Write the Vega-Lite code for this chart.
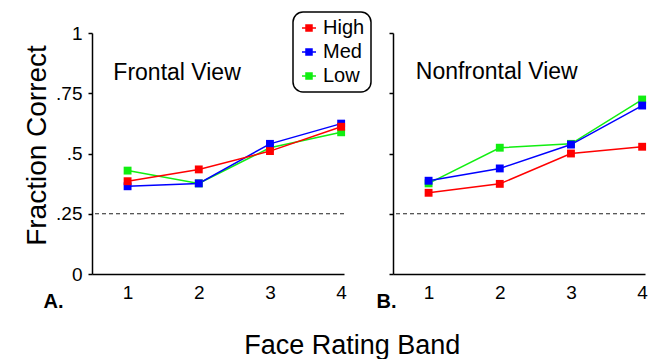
{
  "$schema": "https://vega.github.io/schema/vega-lite/v6.json",
  "padding": {"left": 22, "top": 11, "right": 0, "bottom": 0},
  "bounds": "flush",
  "background": "white",
  "datasets": {
    "acc": [
      {"panel": "Frontal", "band": 1, "level": "Low", "value": 0.429},
      {"panel": "Frontal", "band": 2, "level": "Low", "value": 0.376},
      {"panel": "Frontal", "band": 3, "level": "Low", "value": 0.524},
      {"panel": "Frontal", "band": 4, "level": "Low", "value": 0.588},
      {"panel": "Frontal", "band": 1, "level": "Med", "value": 0.364},
      {"panel": "Frontal", "band": 2, "level": "Med", "value": 0.376},
      {"panel": "Frontal", "band": 3, "level": "Med", "value": 0.540},
      {"panel": "Frontal", "band": 4, "level": "Med", "value": 0.624},
      {"panel": "Frontal", "band": 1, "level": "High", "value": 0.385},
      {"panel": "Frontal", "band": 2, "level": "High", "value": 0.434},
      {"panel": "Frontal", "band": 3, "level": "High", "value": 0.510},
      {"panel": "Frontal", "band": 4, "level": "High", "value": 0.611},
      {"panel": "Nonfrontal", "band": 1, "level": "Low", "value": 0.376},
      {"panel": "Nonfrontal", "band": 2, "level": "Low", "value": 0.524},
      {"panel": "Nonfrontal", "band": 3, "level": "Low", "value": 0.540},
      {"panel": "Nonfrontal", "band": 4, "level": "Low", "value": 0.724},
      {"panel": "Nonfrontal", "band": 1, "level": "Med", "value": 0.387},
      {"panel": "Nonfrontal", "band": 2, "level": "Med", "value": 0.438},
      {"panel": "Nonfrontal", "band": 3, "level": "Med", "value": 0.537},
      {"panel": "Nonfrontal", "band": 4, "level": "Med", "value": 0.699},
      {"panel": "Nonfrontal", "band": 1, "level": "High", "value": 0.337},
      {"panel": "Nonfrontal", "band": 2, "level": "High", "value": 0.374},
      {"panel": "Nonfrontal", "band": 3, "level": "High", "value": 0.500},
      {"panel": "Nonfrontal", "band": 4, "level": "High", "value": 0.528}
    ],
    "frontalLabel": [{"label": "Frontal View", "x": 0.8, "y": 0.835, "chance": 0.25}],
    "nonfrontalLabel": [{"label": "Nonfrontal View", "x": 0.82, "y": 0.84, "chance": 0.25}]
  },
  "title": {
    "text": "Face Rating Band",
    "orient": "bottom",
    "anchor": "middle",
    "fontSize": 27,
    "fontWeight": "normal",
    "font": "Liberation Sans",
    "color": "black",
    "offset": 22,
    "dx": 17
  },
  "spacing": 49,
  "hconcat": [
    {
      "width": 252,
      "height": 241,
      "layer": [
        {
          "data": {"name": "acc"},
          "transform": [{"filter": "datum.panel == 'Frontal'"}],
          "encoding": {
            "x": {
              "field": "band",
              "type": "quantitative",
              "scale": {"domain": [0.5, 4.04], "nice": false, "zero": false},
              "axis": {
                "values": [1, 2, 3, 4],
                "format": "d",
                "ticks": false,
                "labelPadding": 9,
                "title": "A.",
                "titleFontWeight": "bold",
                "titleFontSize": 20,
                "titleAnchor": "start",
                "titleAlign": "left",
                "titleBaseline": "middle",
                "titleX": -49,
                "titleY": 27
              }
            },
            "y": {
              "field": "value",
              "type": "quantitative",
              "scale": {"domain": [0, 1], "nice": false},
              "axis": {
                "values": [0, 0.25, 0.5, 0.75, 1],
                "labelExpr": "datum.value == 0 ? '0' : datum.value == 1 ? '1' : replace(format(datum.value, '.2~f'), '0.', '.')",
                "title": "Fraction Correct",
                "titleFontSize": 28,
                "titleFontWeight": "normal",
                "titleAngle": -90,
                "titleAlign": "center",
                "titleBaseline": "alphabetic",
                "titleX": -47,
                "titleY": 112
              }
            },
            "color": {
              "field": "level",
              "type": "nominal",
              "scale": {"domain": ["High", "Med", "Low"], "range": ["#ff0000", "#0000ff", "#11ee11"]},
              "legend": {"title": null}
            }
          },
          "layer": [
            {"mark": {"type": "line", "strokeWidth": 1.5}},
            {"mark": {"type": "point", "shape": "square", "filled": true, "size": 62, "opacity": 1}}
          ]
        },
        {
          "data": {"name": "frontalLabel"},
          "mark": {"type": "rule", "strokeDash": [4, 3], "color": "#222222", "strokeWidth": 1.2},
          "encoding": {"y": {"field": "chance", "type": "quantitative"}}
        },
        {
          "data": {"name": "frontalLabel"},
          "mark": {"type": "text", "align": "left", "baseline": "middle", "fontSize": 23, "font": "Liberation Sans", "color": "black"},
          "encoding": {
            "x": {"field": "x", "type": "quantitative"},
            "y": {"field": "y", "type": "quantitative"},
            "text": {"field": "label"}
          }
        }
      ]
    },
    {
      "width": 252,
      "height": 241,
      "layer": [
        {
          "data": {"name": "acc"},
          "transform": [{"filter": "datum.panel == 'Nonfrontal'"}],
          "encoding": {
            "x": {
              "field": "band",
              "type": "quantitative",
              "scale": {"domain": [0.5, 4.04], "nice": false, "zero": false},
              "axis": {
                "values": [1, 2, 3, 4],
                "format": "d",
                "ticks": false,
                "labelPadding": 9,
                "title": "B.",
                "titleFontWeight": "bold",
                "titleFontSize": 20,
                "titleAnchor": "start",
                "titleAlign": "left",
                "titleBaseline": "middle",
                "titleX": -17,
                "titleY": 27
              }
            },
            "y": {
              "field": "value",
              "type": "quantitative",
              "scale": {"domain": [0, 1], "nice": false},
              "axis": {
                "values": [0, 0.25, 0.5, 0.75, 1],
                "labels": false,
                "title": null
              }
            },
            "color": {
              "field": "level",
              "type": "nominal",
              "scale": {"domain": ["High", "Med", "Low"], "range": ["#ff0000", "#0000ff", "#11ee11"]},
              "legend": {"title": null}
            }
          },
          "layer": [
            {"mark": {"type": "line", "strokeWidth": 1.5}},
            {"mark": {"type": "point", "shape": "square", "filled": true, "size": 62, "opacity": 1}}
          ]
        },
        {
          "data": {"name": "nonfrontalLabel"},
          "mark": {"type": "rule", "strokeDash": [4, 3], "color": "#222222", "strokeWidth": 1.2},
          "encoding": {"y": {"field": "chance", "type": "quantitative"}}
        },
        {
          "data": {"name": "nonfrontalLabel"},
          "mark": {"type": "text", "align": "left", "baseline": "middle", "fontSize": 23, "font": "Liberation Sans", "color": "black"},
          "encoding": {
            "x": {"field": "x", "type": "quantitative"},
            "y": {"field": "y", "type": "quantitative"},
            "text": {"field": "label"}
          }
        }
      ]
    }
  ],
  "config": {
    "font": "Liberation Sans",
    "view": {"stroke": null},
    "axis": {
      "grid": false,
      "domainColor": "black",
      "domainWidth": 1.5,
      "tickColor": "black",
      "tickWidth": 1.5,
      "tickSize": 4,
      "labelFontSize": 19,
      "labelColor": "black",
      "labelFont": "Liberation Sans",
      "labelPadding": 6,
      "titleColor": "black",
      "titleFont": "Liberation Sans"
    },
    "legend": {
      "orient": "none",
      "legendX": 201,
      "legendY": -21,
      "strokeColor": "black",
      "strokeWidth": 1.5,
      "cornerRadius": 10,
      "padding": 6,
      "fillColor": "white",
      "labelFontSize": 20,
      "labelColor": "black",
      "labelFont": "Liberation Sans",
      "labelOffset": 4,
      "rowPadding": 4,
      "symbolType": "M-1,0H1M-0.43,-0.43H0.43V0.43H-0.43Z",
      "symbolSize": 196,
      "symbolStrokeWidth": 1.5
    }
  }
}
